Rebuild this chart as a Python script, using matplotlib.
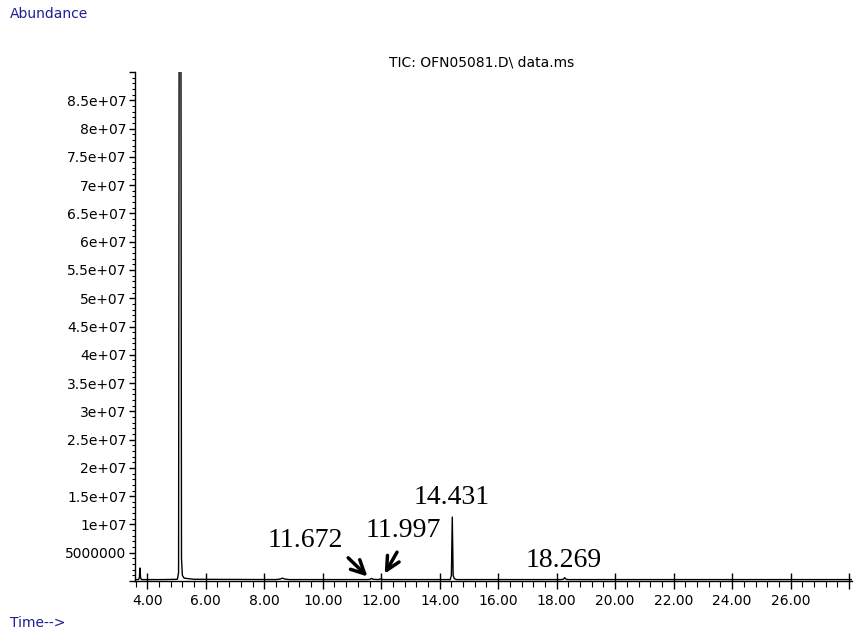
import numpy as np
import matplotlib.pyplot as plt
from matplotlib.ticker import MultipleLocator, FuncFormatter

# TIC trace, read as (minutes, abundance) vertices
times = [3.58, 3.70, 3.73, 3.75, 3.77, 3.80, 4.50, 5.03, 5.07, 5.09, 5.12,
         5.15, 5.17, 5.20, 5.26, 5.60, 8.40, 8.55, 8.62, 8.70, 8.85, 11.55,
         11.62, 11.67, 11.72, 11.90, 11.97, 12.00, 12.04, 14.36, 14.40, 14.43,
         14.46, 14.50, 14.58, 18.18, 18.24, 18.27, 18.31, 18.38, 28.10]
abundance = [0.25e6, 0.25e6, 0.6e6, 2.3e6, 0.6e6, 0.25e6, 0.25e6, 0.3e6, 1.5e6,
             100e6, 250e6, 100e6, 4e6, 1.0e6, 0.5e6, 0.3e6, 0.25e6, 0.35e6, 0.5e6,
             0.35e6, 0.25e6, 0.25e6, 0.3e6, 0.45e6, 0.3e6, 0.25e6, 0.35e6,
             0.4e6, 0.25e6, 0.25e6, 1.0e6, 11.3e6, 1.0e6, 0.4e6, 0.25e6, 0.25e6,
             0.35e6, 0.6e6, 0.35e6, 0.25e6, 0.25e6]

peak_labels = ["11.672", "11.997", "14.431", "18.269"]
label_pos = [(9.40, 7.2e6), (12.75, 9.0e6), (14.42, 14.8e6), (18.25, 3.7e6)]
# arrows marking the two minor peaks: (tail, tip)
arrows = [((10.87, 4.1e6), (11.53, 0.8e6)), ((12.54, 5.1e6), (12.12, 1.3e6))]

blue = '#1e1e96'
plt.rcParams['font.family'] = ['DejaVu Sans']

fig = plt.figure(figsize=(8.56, 6.31), dpi=100, facecolor='white')
ax = fig.add_axes([135 / 856, 1 - 581 / 631, 717 / 856, 509 / 631])

ax.plot(times, abundance, color='black', lw=1.0)
ax.set_xlim(3.58, 28.1)
ax.set_ylim(0, 9e7)

for s in ['top', 'right']:
    ax.spines[s].set_visible(False)
for s in ['left', 'bottom']:
    ax.spines[s].set_linewidth(1.0)

ax.xaxis.set_major_locator(MultipleLocator(2))
ax.xaxis.set_minor_locator(MultipleLocator(0.4))
ax.xaxis.set_major_formatter(FuncFormatter(lambda v, p: '' if v > 27 else '%.2f' % v))
ax.yaxis.set_major_locator(MultipleLocator(5e6))
ax.yaxis.set_minor_locator(MultipleLocator(1e6))


def ylab(v, p):
    if v <= 0 or v > 8.6e7:
        return ''
    if v < 1e7:
        return '%d' % v
    m = v / 1e7
    return ('%g' % m) + 'e+07'


ax.yaxis.set_major_formatter(FuncFormatter(ylab))
ax.tick_params(axis='x', which='major', direction='inout', length=11, width=1,
               labelsize=10, pad=4)
ax.tick_params(axis='x', which='minor', direction='out', length=4, width=0.8)
ax.tick_params(axis='y', which='major', direction='out', length=4, width=1,
               labelsize=10, pad=2)
ax.tick_params(axis='y', which='minor', direction='out', length=2, width=0.8)

for txt, (x, y) in zip(peak_labels, label_pos):
    ax.text(x, y, txt, ha='center', va='center', fontsize=20,
            family='Liberation Serif')

for (tail, tip) in arrows:
    ax.annotate('', xy=tip, xytext=tail,
                arrowprops=dict(arrowstyle='->', lw=2.5, color='black',
                                mutation_scale=24, shrinkA=0, shrinkB=0))

fig.text(482 / 856, 1 - 63 / 631, 'TIC: OFN05081.D\\ data.ms', ha='center',
         va='center', fontsize=10)
fig.text(10 / 856, 1 - 14 / 631, 'Abundance', ha='left', va='center',
         fontsize=10, color=blue)
fig.text(10 / 856, 1 - 623 / 631, 'Time-->', ha='left', va='center',
         fontsize=10, color=blue)

fig.savefig('out.png', dpi=100, facecolor='white')
